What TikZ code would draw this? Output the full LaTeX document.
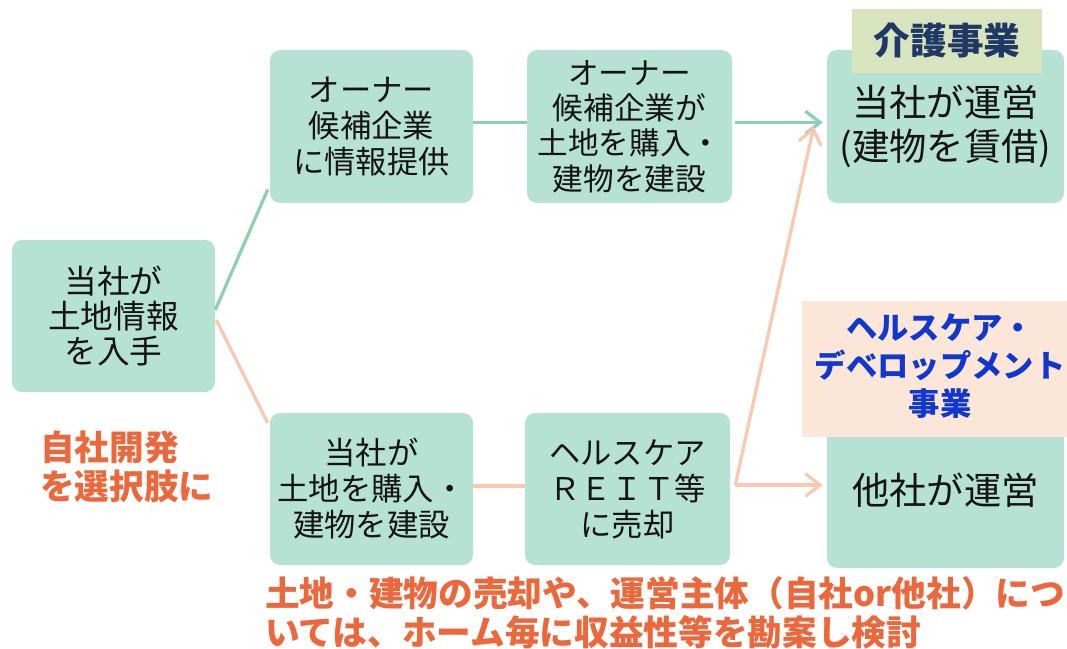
\documentclass[tikz,border=0pt]{standalone}
\usepackage{fontspec}
\setmainfont{Noto Sans CJK JP}
\usetikzlibrary{arrows.meta,calc}
\definecolor{boxfill}{RGB}{182,226,212}
\definecolor{gline}{RGB}{140,208,180}
\definecolor{pline}{RGB}{250,200,176}
\definecolor{labA}{RGB}{215,228,189}
\definecolor{labB}{RGB}{252,230,216}
\definecolor{orangetxt}{RGB}{236,104,60}
\definecolor{bluetxt}{RGB}{16,56,208}
\definecolor{navytxt}{RGB}{31,56,100}
\definecolor{boxtxt}{RGB}{20,20,20}
\begin{document}
\begin{tikzpicture}[x=0.75pt,y=-0.75pt,
  box/.style={fill=boxfill, rounded corners=7.5pt, align=center, inner sep=0pt, text=boxtxt},
  midbox/.style={box, minimum width=152.25pt, minimum height=114.5pt, font=\fontsize{23.5}{27}\selectfont},
  bigbox/.style={box, minimum width=177.75pt, font=\fontsize{28}{32.5}\selectfont},
  gconn/.style={draw=gline, line width=2.4pt},
  pconn/.style={draw=pline, line width=2.4pt},
  tipped/.style={-{Straight Barb[length=11pt,width=17pt]}},
  note/.style={text=orangetxt, font=\fontsize{26}{29.5}\selectfont\bfseries, align=left, inner sep=0pt, anchor=west}]
\useasboundingbox (0,0) rectangle (1067,649);

% boxes
\node[midbox, minimum height=114pt, font=\fontsize{24.5}{26}\selectfont] (b1) at (113.5,316) {当社が\\土地情報\\を入手};
\node[midbox] (b2) at (371.5,126.5) {オーナー\\候補企業\\に情報提供};
\node[midbox, minimum width=153.75pt, font=\fontsize{23}{26.6}\selectfont] (b3) at (629.5,126.5) {オーナー\\候補企業が\\土地を購入・\\建物を建設};
\node[bigbox, minimum height=114.75pt] (b6) at (945.5,126.5) {当社が運営\\(建物を賃借)};
\node[midbox, minimum height=114pt] (b4) at (371.5,489) {当社が\\土地を購入・\\建物を建設};
\node[midbox, minimum width=153.75pt, minimum height=114pt] (b5) at (627.5,489) {ヘルスケア\\ＲＥＩＴ等\\に売却};
\node[bigbox, minimum height=116.25pt] (b7) at (945.5,490.5) {他社が運営};

% category labels
\node[fill=labA, minimum width=142.5pt, minimum height=48pt, inner sep=0pt,
      text=navytxt, font=\fontsize{27.5}{30}\selectfont\bfseries] (lab1) at (947,41) {介護事業};
\node[fill=labB, minimum width=198.75pt, minimum height=102pt, inner sep=0pt] (lab2) at (934.5,369) {};
\node[text=bluetxt, align=center, inner sep=0pt, font=\fontsize{23.5}{28.5}\selectfont\bfseries] (lab2t) at (940,366) {ヘルスケア・\\デベロップメント\\事業};

% connectors
\draw[gconn] ($(b1.east)+(0,-6)$) -- ($(b2.west)+(-2,63)$);
\draw[pconn] ($(b1.east)+(1,4)$) -- ($(b4.west)+(-2,-66)$);
\draw[gconn] ($(b2.east)+(0,-4)$) -- ($(b3.west)+(0,-4)$);
\draw[gconn, tipped] ($(b3.east)+(3,-4)$) -- ($(b6.west)+(-4,-4)$);
\draw[pconn] ($(b4.east)+(0,-3)$) -- ($(b5.west)+(0,-3)$);
\coordinate (fork) at ($(b5.east)+(5,-4)$);
\draw[pconn, tipped] (fork) -- ($(b7.west)+(-4,-5.5)$);
\draw[pconn, tipped] (fork) -- ($(b6.west)+(-13,0)$);

% notes
\node[note] (n1) at (40,467) {自社開発\\を選択肢に};
\node[note] (n2) at (265,612.5) {土地・建物の売却や、運営主体（自社or他社）につ\\いては、ホーム毎に収益性等を勘案し検討};
\end{tikzpicture}
\end{document}
